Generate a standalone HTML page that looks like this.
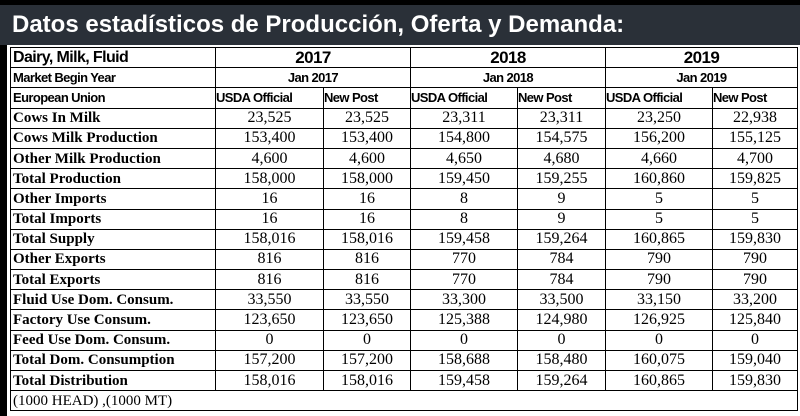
<!DOCTYPE html>
<html><head><meta charset="utf-8"><style>
body{margin:0;width:800px;height:416px;overflow:hidden;background:#000;position:relative;font-family:"Liberation Serif",serif}
#title{position:absolute;left:0;top:5px;width:800px;height:40px;background:#2a3038;color:#fff;font:bold 24px "Liberation Sans",sans-serif;line-height:40px;padding-left:12px;box-sizing:border-box}
#paper{position:absolute;left:7px;top:45px;width:793px;height:371px;background:#fff}
table{position:absolute;left:10px;top:47px;border-collapse:collapse;table-layout:fixed}
td{border:1.5px solid #000;padding:0 2px;height:19.2px;line-height:18px;font-size:16px;white-space:nowrap;overflow:hidden;box-sizing:content-box}
.h td{font-family:"Liberation Sans",sans-serif;font-weight:bold;font-size:13px;text-align:center;letter-spacing:-0.6px}
td.l{text-align:left;font-family:"Liberation Serif",serif;font-weight:bold;font-size:15px;letter-spacing:0}
.h td.hl{text-align:left;font-size:13px;font-family:"Liberation Sans",sans-serif}
.y td{font-size:17px}
td.n{text-align:center}
.sub{text-align:left!important;padding-left:0}
</style></head><body>
<div id="title">Datos estadísticos de Producción, Oferta y Demanda:</div>
<div id="paper"></div>
<table>
<colgroup><col style="width:205px"><col style="width:108px"><col style="width:87px"><col style="width:107px"><col style="width:88px"><col style="width:107px"><col style="width:85px"></colgroup>
<tr class="h y"><td class="hl" style="font-size:16px">Dairy, Milk, Fluid</td><td colspan="2">2017</td><td colspan="2">2018</td><td colspan="2">2019</td></tr>
<tr class="h"><td class="hl">Market Begin Year</td><td colspan="2">Jan 2017</td><td colspan="2">Jan 2018</td><td colspan="2">Jan 2019</td></tr>
<tr class="h"><td class="hl">European Union</td><td class="sub">USDA Official</td><td class="sub">New Post</td><td class="sub">USDA Official</td><td class="sub">New Post</td><td class="sub">USDA Official</td><td class="sub">New Post</td></tr>
<tbody id="body"></tbody>
<tr><td colspan="7" style="font-size:15px">(1000 HEAD) ,(1000 MT)</td></tr>
</table>
<script>
const labels=["Cows In Milk","Cows Milk Production","Other Milk Production","Total Production","Other Imports","Total Imports","Total Supply","Other Exports","Total Exports","Fluid Use Dom. Consum.","Factory Use Consum.","Feed Use Dom. Consum.","Total Dom. Consumption","Total Distribution"];
const vals=[
["23,525","23,525","23,311","23,311","23,250","22,938"],
["153,400","153,400","154,800","154,575","156,200","155,125"],
["4,600","4,600","4,650","4,680","4,660","4,700"],
["158,000","158,000","159,450","159,255","160,860","159,825"],
["16","16","8","9","5","5"],
["16","16","8","9","5","5"],
["158,016","158,016","159,458","159,264","160,865","159,830"],
["816","816","770","784","790","790"],
["816","816","770","784","790","790"],
["33,550","33,550","33,300","33,500","33,150","33,200"],
["123,650","123,650","125,388","124,980","126,925","125,840"],
["0","0","0","0","0","0"],
["157,200","157,200","158,688","158,480","160,075","159,040"],
["158,016","158,016","159,458","159,264","160,865","159,830"]];
const body=document.getElementById('body');
labels.forEach((lab,i)=>{
 const tr=document.createElement('tr');
 
 
 const td=document.createElement('td');td.className='l';td.textContent=lab;
 
 
 tr.appendChild(td);
 vals[i].forEach(v=>{const c=document.createElement('td');c.className='n';c.textContent=v;
  
  
  tr.appendChild(c);});
 body.appendChild(tr);
});
</script>
</body></html>
